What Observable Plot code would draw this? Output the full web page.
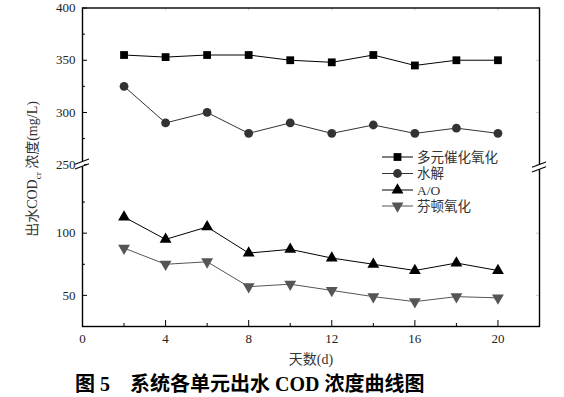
<!DOCTYPE html>
<html><head><meta charset="utf-8">
<script src="https://cdn.jsdelivr.net/npm/d3@7"></script>
<script src="https://cdn.jsdelivr.net/npm/@observablehq/plot@0.6"></script>
<style>
body{margin:0;background:#fff;}
#chart svg, #chart svg text{font-family:'Liberation Serif','Times New Roman','Noto Sans CJK SC',serif !important;}
#caption{height:25px;line-height:25px;padding-left:75px;font-weight:bold;font-size:20px;font-family:'Liberation Serif','Noto Sans CJK SC';color:#000;white-space:pre;}
</style></head><body>
<div id="chart"></div>
<div id="caption"></div>
<script>
const days = [2, 4, 6, 8, 10, 12, 14, 16, 18, 20];
const multiCat = [355, 353, 355, 355, 350, 348, 355, 345, 350, 350];
const hydrolysis = [325, 290, 300, 280, 290, 280, 288, 280, 285, 280];
const aoValues = [113, 95, 105, 84, 87, 80, 75, 70, 76, 70];
const fentonValues = [88, 75, 77, 57, 59, 54, 49, 45, 49, 48];
const seriesNames = ["多元催化氧化", "水解", "A/O", "芬顿氧化"];
const yMajor = [50, 100, 250, 300, 350, 400];
const yMinor = [75, 125, 275, 325, 375];
const xMajor = [0, 4, 8, 12, 16, 20];
const xMinor = [2, 6, 10, 14, 18];
const xTitle = "天数(d)";
const yTitleA = "出水COD", yTitleSub = "cr", yTitleB = " 浓度(mg/L)";
const captionLeft = "图 5", captionRight = "系统各单元出水 COD 浓度曲线图";

const W = 564, H = 372, mL = 82, mR = 25, mT = 7.5, mB = 46;
const FW = W - mL - mR, FH = H - mT - mB;
// broken y axis: two linear segments stacked
const brk = v => v >= 200 ? 162 + (v - 250) * 1.046 : (v - 25) * 1.246;

const styles = [
  {color: "#000", symbol: "square", rotate: 0, r: 4.4},
  {color: "#333", symbol: "circle", rotate: 0, r: 4.4},
  {color: "#000", symbol: "triangle", rotate: 0, r: 4.4},
  {color: "#555", symbol: "triangle", rotate: 180, r: 4.4}
];
const valueLists = [multiCat, hydrolysis, aoValues, fentonValues];
const series = seriesNames.map((name, s) => days.map((d, i) => ({day: d, v: valueLists[s][i], name})));

const labelMap = new Map(yMajor.map(v => [brk(v).toFixed(3), v]));

const marks = [
  Plot.ruleY(yMajor, {y: brk, insetRight: FW - 5, stroke: "#000"}),
  Plot.ruleY(yMinor, {y: brk, insetRight: FW - 3, stroke: "#000"}),
  Plot.ruleY(yMajor, {y: brk, insetLeft: FW - 3, stroke: "#ccc"}),
  Plot.ruleX(xMajor, {x: d => d, insetTop: FH - 6, stroke: "#000"}),
  Plot.ruleX(xMinor, {x: d => d, insetTop: FH - 3, stroke: "#000"}),
  Plot.ruleX(xMajor, {x: d => d, insetBottom: FH - 3, stroke: "#ccc"}),
  Plot.axisY({ticks: yMajor.map(brk), tickSize: 0, tickPadding: 7, tickFormat: d => labelMap.get(d.toFixed(3)), fontSize: 13, fill: "#222", label: null}),
  Plot.axisX({ticks: xMajor, tickSize: 0, tickPadding: 7, fontSize: 13, fill: "#222", label: null}),
  Plot.text([xTitle], {frameAnchor: "bottom", dy: 37, fontSize: 14, fill: "#333", text: d => d})
];
series.forEach((rows, s) => {
  const st = styles[s];
  marks.push(Plot.line(rows, {x: "day", y: d => brk(d.v), stroke: st.color, strokeWidth: 1}));
  marks.push(Plot.dot(rows, {x: "day", y: d => brk(d.v), symbol: st.symbol, r: st.r, fill: st.color, stroke: "none", rotate: st.rotate}));
});
marks.push(Plot.frame({stroke: "#000", strokeWidth: 1.4}));

const plot = Plot.plot({
  width: W, height: H,
  marginLeft: mL, marginRight: mR, marginTop: mT, marginBottom: mB,
  style: {fontFamily: "'Liberation Serif','Noto Sans CJK SC'", background: "#fff", overflow: "visible"},
  x: {domain: [0, 22]},
  y: {domain: [0, brk(400)]},
  marks
});
document.getElementById("chart").appendChild(plot);

const svg = d3.select(plot);
// axis breaks
[[mL, 164], [W - mR, 167]].forEach(([x, yc]) => {
  svg.append("rect").attr("x", x - 2).attr("y", yc - 2.2).attr("width", 4).attr("height", 4.4).attr("fill", "#fff");
  [-2.3, 2.3].forEach(o => {
    svg.append("line").attr("x1", x - 7).attr("y1", yc + o + 2.6).attr("x2", x + 7).attr("y2", yc + o - 2.6)
      .attr("stroke", "#000").attr("stroke-width", 1.1);
  });
});
// legend
const lg = svg.append("g").attr("text-anchor", "start");
const legendY = [157, 173.5, 190, 206];
seriesNames.forEach((name, s) => {
  const st = styles[s], y = legendY[s];
  lg.append("line").attr("x1", 382).attr("x2", 413).attr("y1", y).attr("y2", y).attr("stroke", st.color).attr("stroke-width", 1);
  const sym = st.symbol === "square" ? d3.symbolSquare : st.symbol === "circle" ? d3.symbolCircle : d3.symbolTriangle;
  lg.append("path").attr("d", d3.symbol(sym, Math.PI * st.r * st.r)())
    .attr("transform", `translate(397.5,${y}) rotate(${st.rotate})`).attr("fill", st.color);
  lg.append("text").attr("x", 417).attr("y", y).attr("dy", "0.36em").attr("text-anchor", "start")
    .attr("font-size", 13.5).attr("fill", "#333").text(name);
});
// y title with subscript
const yt = svg.append("text").attr("transform", "translate(37,169) rotate(-90)").attr("text-anchor", "middle")
  .attr("font-size", 14).attr("fill", "#333");
yt.append("tspan").text(yTitleA);
yt.append("tspan").attr("font-size", 9).attr("dy", 4).text(yTitleSub);
yt.append("tspan").attr("dy", -4).text(yTitleB);

document.getElementById("caption").textContent = captionLeft + "    " + captionRight;
</script>
</body></html>
